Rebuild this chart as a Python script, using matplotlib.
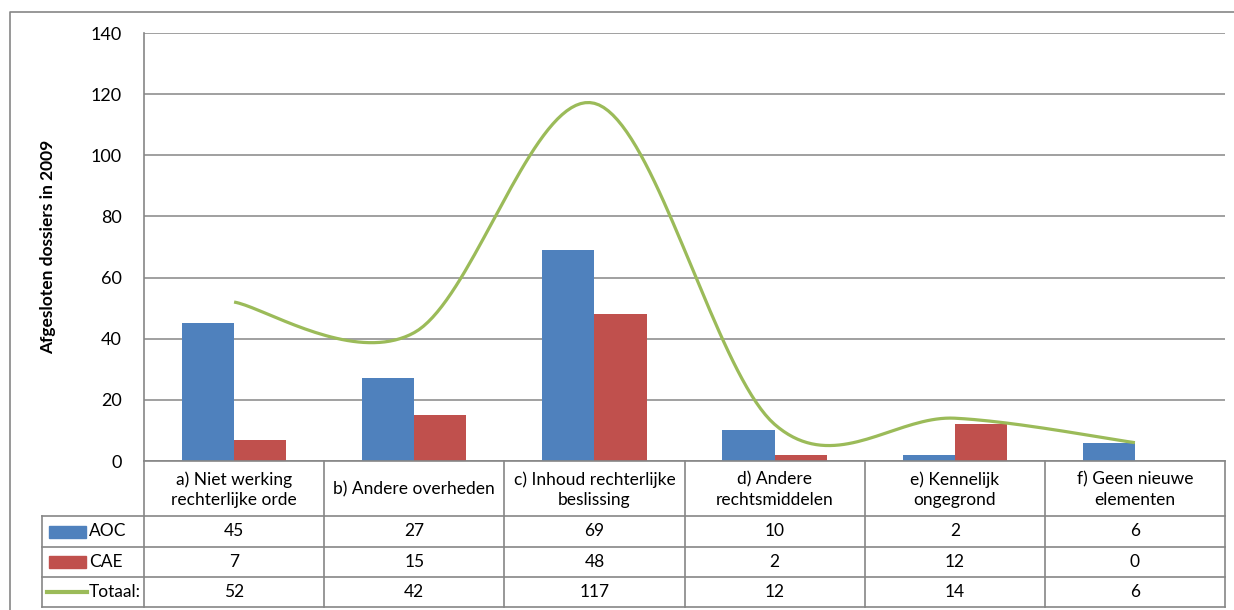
import matplotlib

matplotlib.use("Agg")
import matplotlib.pyplot as plt
import numpy as np
from matplotlib.lines import Line2D
from matplotlib.patches import Rectangle
from matplotlib.transforms import blended_transform_factory

categories = [
    "a) Niet werking\nrechterlijke orde",
    "b) Andere overheden",
    "c) Inhoud rechterlijke\nbeslissing",
    "d) Andere\nrechtsmiddelen",
    "e) Kennelijk\nongegrond",
    "f) Geen nieuwe\nelementen",
]
aoc = [45, 27, 69, 10, 2, 6]
cae = [7, 15, 48, 2, 12, 0]
totaal = [52, 42, 117, 12, 14, 6]
series_names = ["AOC", "CAE", "Totaal:"]
y_label = "Afgesloten dossiers in 2009"

BLUE = "#4F81BD"
RED = "#C0504D"
GREEN = "#9BBB59"
GRID = "#868686"

W, H, DPI = 1234, 610, 100
plt.rcParams["font.family"] = ["Lato", "DejaVu Sans"]


def fx(px):
    return px / W


def fy(py):
    return 1 - py / H


def smooth(xs, ys, n=40):
    # Catmull-Rom style bezier segments, end points duplicated
    pts = np.column_stack([xs, ys]).astype(float)
    ext = np.vstack([pts[0], pts, pts[-1]])
    out = []
    t = np.linspace(0, 1, n)[:, None]
    for i in range(len(pts) - 1):
        p0, p1 = ext[i + 1], ext[i + 2]
        c1 = p0 + (ext[i + 2] - ext[i]) / 6
        c2 = p1 - (ext[i + 3] - ext[i + 1]) / 6
        seg = ((1 - t) ** 3) * p0 + 3 * ((1 - t) ** 2) * t * c1 \
            + 3 * (1 - t) * t ** 2 * c2 + t ** 3 * p1
        out.append(seg if i == 0 else seg[1:])
    out = np.vstack(out)
    return out[:, 0], out[:, 1]


fig = plt.figure(figsize=(W / DPI, H / DPI), dpi=DPI)
ax_left, ax_right, ax_top, ax_bot = 144, 1225, 33, 461
ax = fig.add_axes([fx(ax_left), fy(ax_bot), fx(ax_right - ax_left),
                   (ax_bot - ax_top) / H])

x = np.arange(len(categories))
bw = 0.29
ax.bar(x - bw / 2, aoc, bw, color=BLUE, zorder=2)
ax.bar(x + bw / 2, cae, bw, color=RED, zorder=2)
sx, sy = smooth(x, totaal)
ax.plot(sx, sy, color=GREEN, lw=2.3, zorder=3, solid_capstyle="butt")

ax.set_xlim(-0.5, len(categories) - 0.5)
ax.set_ylim(0, 140)
ax.set_yticks(range(0, 141, 20))
ax.yaxis.grid(True, color=GRID, lw=1.1)
ax.set_axisbelow(True)
ax.set_xticks([])
ax.tick_params(axis="y", length=0, pad=16, labelsize=13, colors="black")
for side in ["top", "right", "bottom"]:
    ax.spines[side].set_visible(False)
ax.spines["left"].set_color(GRID)
ax.spines["left"].set_linewidth(1.2)

fig.text(fx(48), fy(247), y_label, rotation=90, ha="center", va="center",
         fontsize=12.5, fontweight="bold")

# data table under the plot
tr = blended_transform_factory(ax.transData, fig.transFigure)
row_edges = [461, 516, 547, 577, 607]
tab_kw = dict(color=GRID, lw=1.2, clip_on=False)
for i in range(len(categories) + 1):
    fig.add_artist(Line2D([i - 0.5, i - 0.5], [fy(row_edges[0]), fy(row_edges[-1])],
                          transform=tr, **tab_kw))
for j, ry in enumerate(row_edges):
    x0 = fx(ax_left) if j == 0 else fx(42)
    fig.add_artist(Line2D([x0, fx(ax_right)], [fy(ry), fy(ry)],
                          transform=fig.transFigure, **tab_kw))
fig.add_artist(Line2D([fx(42), fx(42)], [fy(row_edges[1]), fy(row_edges[-1])],
                      transform=fig.transFigure, **tab_kw))

for i, lab in enumerate(categories):
    fig.text(i, fy((row_edges[0] + row_edges[1]) / 2 + 1), lab, transform=tr,
             ha="center", va="center", fontsize=12.5, linespacing=1.35)
for j, vals in enumerate([aoc, cae, totaal]):
    yc = fy((row_edges[j + 1] + row_edges[j + 2]) / 2)
    for i, v in enumerate(vals):
        fig.text(i, yc, str(v), transform=tr, ha="center", va="center",
                 fontsize=12.5)
    fig.text(fx(89), yc, series_names[j], ha="left", va="center", fontsize=12.5)

# legend keys in the row headers
for j, col in enumerate([BLUE, RED]):
    yc = (row_edges[j + 1] + row_edges[j + 2]) / 2
    fig.add_artist(Rectangle((fx(49), fy(yc + 6)), fx(37), 12 / H,
                             transform=fig.transFigure, color=col))
yc = (row_edges[3] + row_edges[4]) / 2
fig.add_artist(Line2D([fx(47), fx(87)], [fy(yc), fy(yc)],
                      transform=fig.transFigure, color=GREEN, lw=3))

# outer chart frame
fig.add_artist(Line2D([fx(10), fx(10), 1], [0, fy(12), fy(12)],
                      transform=fig.transFigure, color=GRID, lw=1.2))

fig.savefig("out.png", dpi=DPI)
